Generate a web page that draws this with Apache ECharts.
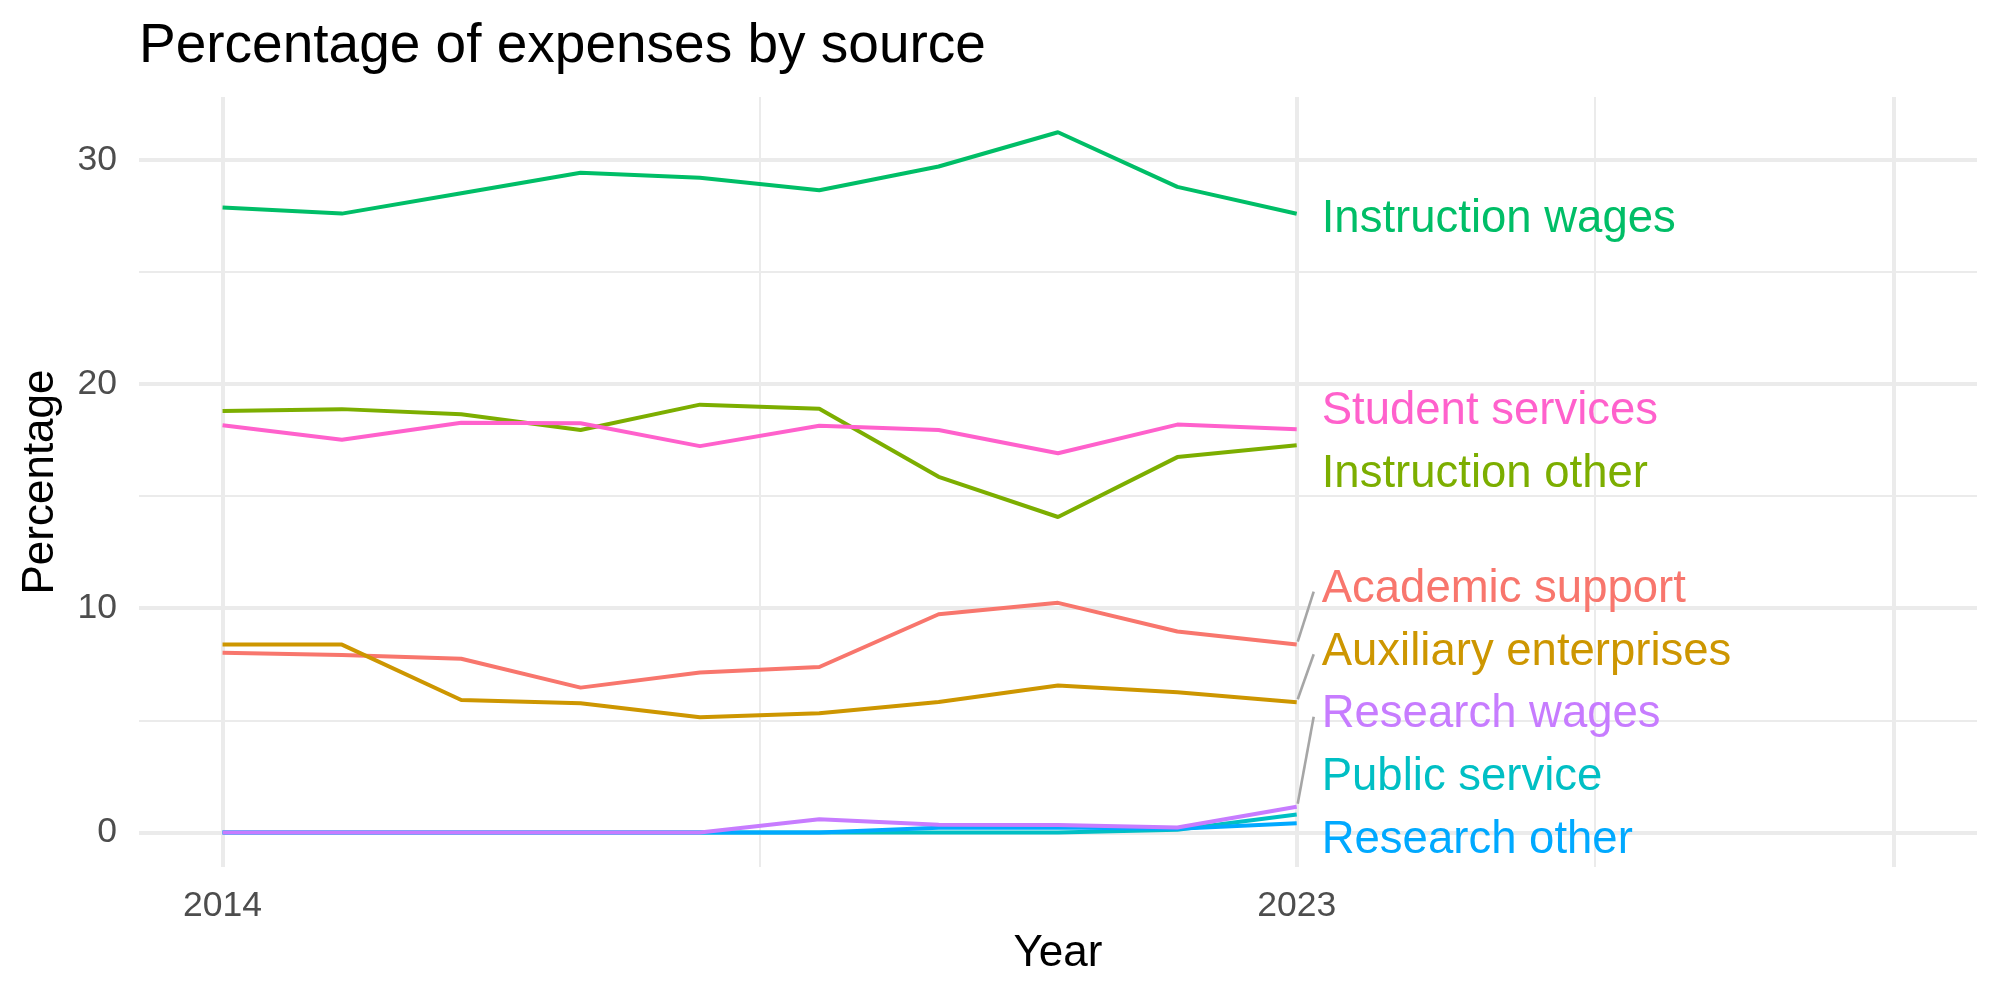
<!DOCTYPE html>
<html>
<head>
<meta charset="utf-8">
<script src="https://cdn.jsdelivr.net/npm/echarts@6/dist/echarts.min.js"></script>
<style>
  html, body { margin: 0; padding: 0; background: #fff; }
  #main { width: 2000px; height: 1000px; }
</style>
</head>
<body>
<div id="main"></div>
<script>
// years on the x axis
var years = [2014, 2015, 2016, 2017, 2018, 2019, 2020, 2021, 2022, 2023];

// percentage of expenses, one array per source
var academicSupport      = [8.02, 7.92, 7.75, 6.46, 7.13, 7.38, 9.73, 10.24, 8.96, 8.38];
var auxiliaryEnterprises = [8.38, 8.38, 5.91, 5.76, 5.14, 5.32, 5.82, 6.55, 6.25, 5.81];
var instructionOther     = [18.80, 18.88, 18.65, 17.95, 19.08, 18.90, 15.86, 14.07, 16.74, 17.27];
var instructionWages     = [27.87, 27.60, 28.51, 29.42, 29.20, 28.64, 29.70, 31.23, 28.79, 27.59];
var publicService        = [0, 0, 0, 0, 0, 0, 0, 0, 0.12, 0.80];
var researchOther        = [0, 0, 0, 0, 0, 0, 0.21, 0.22, 0.17, 0.41];
var researchWages        = [0, 0, 0, 0, 0, 0.59, 0.34, 0.33, 0.22, 1.15];
var studentServices      = [18.16, 17.51, 18.27, 18.25, 17.23, 18.14, 17.95, 16.91, 18.19, 17.98];

// tick labels
var xTicks = [2014, 2023];
var yTicks = [0, 10, 20, 30];

var FONT = '"Liberation Sans", Arial, Helvetica, sans-serif';

// name, values, colour, label nudge (px), leader line?
var sources = [
    ['Academic support', academicSupport, '#F8766D', -55, true],
    ['Auxiliary enterprises', auxiliaryEnterprises, '#CD9600', -50, true],
    ['Instruction other', instructionOther, '#7CAE00', 29, false],
    ['Instruction wages', instructionWages, '#00BE67', 6, false],
    ['Public service', publicService, '#00BFC4', -37, false],
    ['Research other', researchOther, '#00A9FF', 17, false],
    ['Research wages', researchWages, '#C77CFF', -92, true],
    ['Student services', studentServices, '#FF61CC', -18, false]
];

var myChart = echarts.init(document.getElementById('main'));

// grid lines drawn as mark lines (major thick, minor thin)
function gl(axis, v, major) {
    var item = { lineStyle: { color: '#EBEBEB', width: major ? 4 : 2, type: 'solid' } };
    item[axis] = v;
    return item;
}
var gridSeries = {
    name: 'grid',
    type: 'line',
    data: [],
    z: 0,
    silent: true,
    markLine: {
        z: 0,
        silent: true,
        symbol: 'none',
        label: { show: false },
        emphasis: { disabled: true },
        data: [
            gl('xAxis', 2014, true), gl('xAxis', 2023, true), gl('xAxis', 2028, true),
            gl('xAxis', 2018.5, false), gl('xAxis', 2025.5, false),
            gl('yAxis', 0, true), gl('yAxis', 10, true), gl('yAxis', 20, true), gl('yAxis', 30, true),
            gl('yAxis', 5, false), gl('yAxis', 15, false), gl('yAxis', 25, false)
        ]
    }
};

var series = [gridSeries];
sources.forEach(function (s) {
    series.push({
        name: s[0],
        type: 'line',
        data: years.map(function (y, i) { return [y, s[1][i]]; }),
        showSymbol: false,
        symbol: 'none',
        lineStyle: { color: s[2], width: 4 },
        itemStyle: { color: s[2] },
        z: 3,
        endLabel: {
            show: true,
            formatter: '{a}',
            color: s[2],
            fontSize: 45.5,
            fontFamily: FONT,
            distance: 25,
            offset: [0, s[3]]
        }
    });
});

var option = {
    animation: false,
    backgroundColor: '#fff',
    title: {
        text: 'Percentage of expenses by source',
        left: 139,
        top: 19,
        padding: 0,
        textStyle: { fontSize: 55, fontWeight: 'normal', color: '#000', fontFamily: FONT }
    },
    grid: { left: 139, right: 23, top: 97, bottom: 133, containLabel: false },
    xAxis: {
        type: 'value',
        min: 2013.3,
        max: 2028.7,
        name: 'Year',
        nameLocation: 'middle',
        nameGap: 65,
        nameTextStyle: { fontSize: 44, color: '#000', fontFamily: FONT },
        axisLine: { show: false },
        axisTick: { show: false },
        splitLine: { show: false },
        axisLabel: {
            customValues: xTicks,
            formatter: function (v) { return String(v); },
            fontSize: 35.5,
            color: '#4D4D4D',
            fontFamily: FONT,
            margin: 21
        }
    },
    yAxis: {
        type: 'value',
        min: -1.54,
        max: 32.8,
        name: 'Percentage',
        nameLocation: 'middle',
        nameGap: 76,
        nameTextStyle: { fontSize: 44, color: '#000', fontFamily: FONT },
        axisLine: { show: false },
        axisTick: { show: false },
        splitLine: { show: false },
        axisLabel: {
            customValues: yTicks,
            formatter: function (v) { return String(v); },
            fontSize: 35.5,
            color: '#4D4D4D',
            fontFamily: FONT,
            margin: 22
        }
    },
    series: series
};

myChart.setOption(option);

// grey leader lines from line ends to the moved labels
var leaders = [];
sources.forEach(function (s) {
    if (!s[4]) return;
    var last = s[1][s[1].length - 1];
    var p = myChart.convertToPixel({ gridIndex: 0 }, [years[years.length - 1], last]);
    leaders.push({
        type: 'line',
        silent: true,
        z: 2,
        shape: { x1: p[0] + 1, y1: p[1] - 3, x2: p[0] + 17, y2: p[1] + s[3] + 2 },
        style: { stroke: '#A6A6A6', lineWidth: 2.6 }
    });
});
myChart.setOption({ graphic: leaders });
</script>
</body>
</html>
